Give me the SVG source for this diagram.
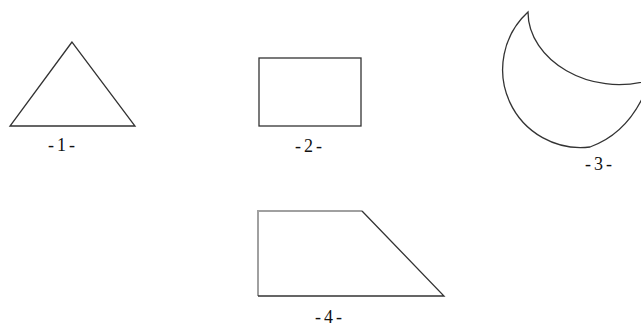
<svg xmlns="http://www.w3.org/2000/svg" width="641" height="327" viewBox="0 0 641 327">
<style>
.s{fill:none;stroke:#333;stroke-width:1.3;stroke-linejoin:miter}
.g{fill:none;stroke:#a0a0a0;stroke-width:2}
.t{font-family:"Liberation Serif","Times New Roman",serif;font-size:18px;fill:#111;letter-spacing:3px}
</style>
<rect width="641" height="327" fill="#fff"/>
<g id="shape1">
<polygon class="s" points="72,42 10,126 135,126"/>
<text class="t" x="48" y="151">-1-</text>
</g>
<g id="shape2">
<rect class="s" x="259" y="58" width="102" height="68"/>
<text class="t" x="295" y="152">-2-</text>
</g>
<g id="shape3">
<path class="s" d="M528,12 A78,78 0 0 0 590,147 Q632,132 650,80 C590,98 528,60 528,12 Z"/>
<text class="t" x="585" y="170">-3-</text>
</g>
<g id="shape4">
<polyline class="g" points="258,296 258,211 362,211"/>
<polyline class="s" points="362,211 444,296 258,296"/>
<text class="t" x="315" y="323">-4-</text>
</g>
</svg>
